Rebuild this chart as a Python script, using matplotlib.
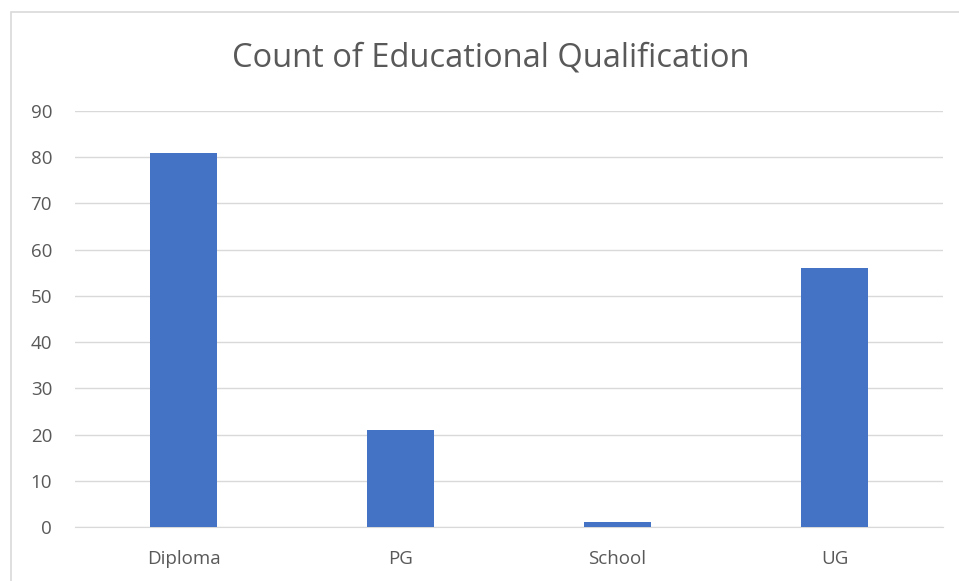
import matplotlib
matplotlib.use("Agg")
import matplotlib.pyplot as plt
from matplotlib.patches import Rectangle

categories = ["Diploma", "PG", "School", "UG"]
counts = [81, 21, 1, 56]
y_ticks = [0, 10, 20, 30, 40, 50, 60, 70, 80, 90]

W, H = 959, 581
fig = plt.figure(figsize=(W / 100, H / 100), dpi=100)
plt.rcParams['font.family'] = ['Open Sans', 'DejaVu Sans']

# chart area border (cut off at right/bottom like the screenshot)
fig.patches.append(Rectangle((11 / W, -0.1), 1.1, (H - 12) / H + 0.1,
                             transform=fig.transFigure, fill=False,
                             edgecolor="#D9D9D9", linewidth=1.2))

ax = fig.add_axes([75 / W, (H - 527) / H, 868 / W, 416 / H])
x = range(len(categories))
ax.bar(x, counts, width=0.31, color="#4472C4", zorder=3)
ax.set_xlim(-0.5, len(categories) - 0.5)
ax.set_ylim(0, 90)
ax.set_yticks(y_ticks)
ax.set_xticks(list(x))
ax.set_xticklabels(categories)
ax.grid(axis="y", color="#D9D9D9", linewidth=1, zorder=0)
for s in ["top", "right", "left"]:
    ax.spines[s].set_visible(False)
ax.spines["bottom"].set_color("#D9D9D9")
ax.tick_params(length=0, colors="#595959", labelsize=13.5)
ax.tick_params(axis="y", pad=16.5)
ax.tick_params(axis="x", pad=16.5)

fig.text(491 / W, 1 - 58 / H, "Count of Educational Qualification",
         ha="center", va="center", fontsize=23.5, color="#595959")

fig.savefig("out.png", dpi=100)
